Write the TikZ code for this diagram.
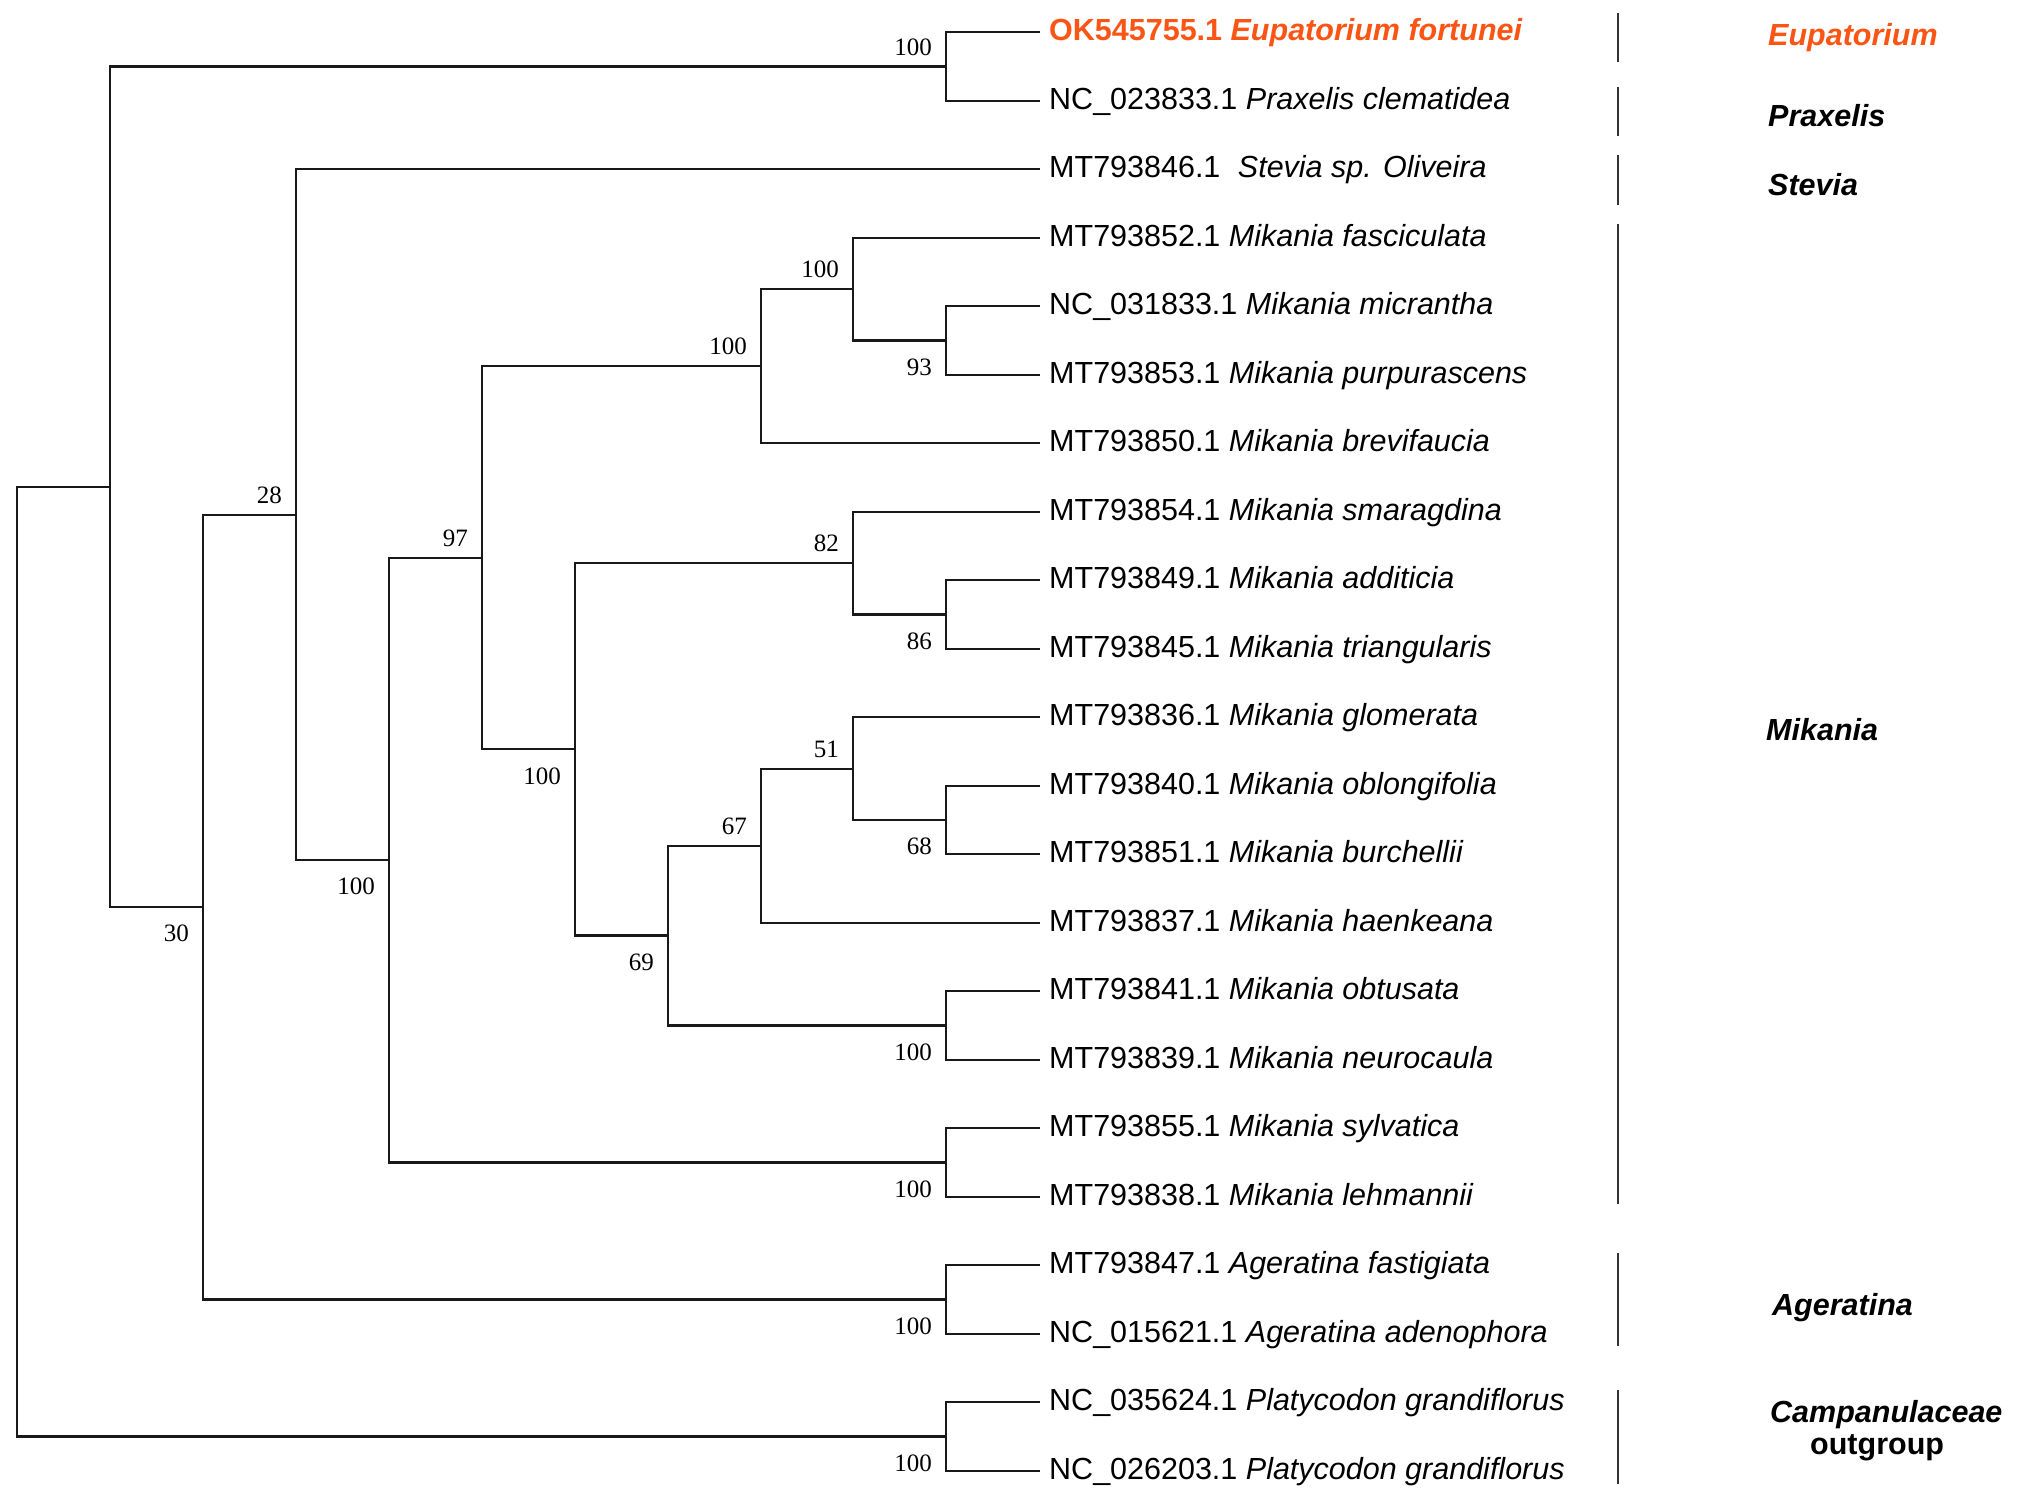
\documentclass[tikz,border=0pt]{standalone}
\usepackage{fontspec}
\setmainfont{Liberation Sans}
\newfontfamily\bsfont{Liberation Serif}
\definecolor{eupa}{RGB}{250,85,20}
\begin{document}
\begin{tikzpicture}[x=1pt,y=-1pt,
  branch/.style={line width=2.2pt, draw=black!90},
  leaflab/.style={anchor=base west, inner sep=0pt, xshift=9pt, yshift=-8.3pt, font=\fontsize{30.5}{36}\selectfont},
  bsup/.style={anchor=south east, inner sep=0pt, xshift=-14pt, yshift=11pt, font=\bsfont\fontsize{25}{30}\selectfont},
  bsdown/.style={anchor=north east, inner sep=0pt, xshift=-14pt, yshift=-18pt, font=\bsfont\fontsize{25}{30}\selectfont},
  grp/.style={anchor=base west, inner sep=0pt, font=\fontsize{30.5}{36}\selectfont\bfseries\itshape},
  bar/.style={line width=1.8pt, draw=black!80}]
\fill[white] (0,0) rectangle (2019,1501);
\useasboundingbox (0,0) rectangle (2019,1501);
% leaf tips
\coordinate (t0) at (1040,32.3);
\coordinate (t1) at (1040,100.8);
\coordinate (t2) at (1040,169.3);
\coordinate (t3) at (1040,237.8);
\coordinate (t4) at (1040,306.3);
\coordinate (t5) at (1040,374.8);
\coordinate (t6) at (1040,443.3);
\coordinate (t7) at (1040,511.8);
\coordinate (t8) at (1040,580.3);
\coordinate (t9) at (1040,648.8);
\coordinate (t10) at (1040,717.3);
\coordinate (t11) at (1040,785.7);
\coordinate (t12) at (1040,854.2);
\coordinate (t13) at (1040,922.7);
\coordinate (t14) at (1040,991.2);
\coordinate (t15) at (1040,1059.7);
\coordinate (t16) at (1040,1128.2);
\coordinate (t17) at (1040,1196.7);
\coordinate (t18) at (1040,1265.2);
\coordinate (t19) at (1040,1333.7);
\coordinate (t20) at (1040,1402.2);
\coordinate (t21) at (1040,1470.7);
% internal nodes
\coordinate (EP) at (946,66.55);
\coordinate (H) at (946,340.55);
\coordinate (G) at (853,289.18);
\coordinate (F) at (761,366.24);
\coordinate (K) at (946,614.55);
\coordinate (J) at (853,563.18);
\coordinate (O) at (946,819.95);
\coordinate (N) at (853,768.63);
\coordinate (M) at (761,845.66);
\coordinate (P) at (946,1025.45);
\coordinate (L) at (668,935.56);
\coordinate (I) at (575,749.37);
\coordinate (E) at (482,557.8);
\coordinate (Q) at (946,1162.45);
\coordinate (D) at (389,860.13);
\coordinate (C) at (296,514.71);
\coordinate (AG) at (946,1299.45);
\coordinate (B) at (203,907.08);
\coordinate (A) at (110,486.8);
\coordinate (S) at (946,1436.45);
\coordinate (R0) at (17,961.6);
% branches
\draw[branch] (R0) |- (A);
\draw[branch] (R0) |- (S);
\draw[branch] (A) |- (EP);
\draw[branch] (A) |- (B);
\draw[branch] (EP) |- (t0);
\draw[branch] (EP) |- (t1);
\draw[branch] (B) |- (C);
\draw[branch] (B) |- (AG);
\draw[branch] (C) |- (t2);
\draw[branch] (C) |- (D);
\draw[branch] (D) |- (E);
\draw[branch] (D) |- (Q);
\draw[branch] (E) |- (F);
\draw[branch] (E) |- (I);
\draw[branch] (F) |- (G);
\draw[branch] (F) |- (t6);
\draw[branch] (G) |- (t3);
\draw[branch] (G) |- (H);
\draw[branch] (H) |- (t4);
\draw[branch] (H) |- (t5);
\draw[branch] (I) |- (J);
\draw[branch] (I) |- (L);
\draw[branch] (J) |- (t7);
\draw[branch] (J) |- (K);
\draw[branch] (K) |- (t8);
\draw[branch] (K) |- (t9);
\draw[branch] (L) |- (M);
\draw[branch] (L) |- (P);
\draw[branch] (M) |- (N);
\draw[branch] (M) |- (t13);
\draw[branch] (N) |- (t10);
\draw[branch] (N) |- (O);
\draw[branch] (O) |- (t11);
\draw[branch] (O) |- (t12);
\draw[branch] (P) |- (t14);
\draw[branch] (P) |- (t15);
\draw[branch] (Q) |- (t16);
\draw[branch] (Q) |- (t17);
\draw[branch] (AG) |- (t18);
\draw[branch] (AG) |- (t19);
\draw[branch] (S) |- (t20);
\draw[branch] (S) |- (t21);
% bootstrap values
\node[bsup] (bEP) at (EP) {100};
\node[bsdown] (bH) at (H) {93};
\node[bsup] (bG) at (G) {100};
\node[bsup] (bF) at (F) {100};
\node[bsup] (bE) at (E) {97};
\node[bsup] (bC) at (C) {28};
\node[bsdown] (bD) at (D) {100};
\node[bsdown] (bB) at (B) {30};
\node[bsdown] (bI) at (I) {100};
\node[bsup] (bJ) at (J) {82};
\node[bsdown] (bK) at (K) {86};
\node[bsdown] (bL) at (L) {69};
\node[bsup] (bM) at (M) {67};
\node[bsup] (bN) at (N) {51};
\node[bsdown] (bO) at (O) {68};
\node[bsdown] (bP) at (P) {100};
\node[bsdown] (bQ) at (Q) {100};
\node[bsdown] (bAG) at (AG) {100};
\node[bsdown] (bS) at (S) {100};
% leaf labels
\node[leaflab, text=eupa, font=\fontsize{30.5}{36}\selectfont\bfseries] (n0) at (t0) {OK545755.1 \textit{Eupatorium fortunei}};
\node[leaflab] (n1) at (t1) {NC\_023833.1 \textit{Praxelis clematidea}};
\node[leaflab] (n2) at (t2) {MT793846.1\hspace{9pt} \textit{Stevia sp. Oliveira}};
\node[leaflab] (n3) at (t3) {MT793852.1 \textit{Mikania fasciculata}};
\node[leaflab] (n4) at (t4) {NC\_031833.1 \textit{Mikania micrantha}};
\node[leaflab] (n5) at (t5) {MT793853.1 \textit{Mikania purpurascens}};
\node[leaflab] (n6) at (t6) {MT793850.1 \textit{Mikania brevifaucia}};
\node[leaflab] (n7) at (t7) {MT793854.1 \textit{Mikania smaragdina}};
\node[leaflab] (n8) at (t8) {MT793849.1 \textit{Mikania additicia}};
\node[leaflab] (n9) at (t9) {MT793845.1 \textit{Mikania triangularis}};
\node[leaflab] (n10) at (t10) {MT793836.1 \textit{Mikania glomerata}};
\node[leaflab] (n11) at (t11) {MT793840.1 \textit{Mikania oblongifolia}};
\node[leaflab] (n12) at (t12) {MT793851.1 \textit{Mikania burchellii}};
\node[leaflab] (n13) at (t13) {MT793837.1 \textit{Mikania haenkeana}};
\node[leaflab] (n14) at (t14) {MT793841.1 \textit{Mikania obtusata}};
\node[leaflab] (n15) at (t15) {MT793839.1 \textit{Mikania neurocaula}};
\node[leaflab] (n16) at (t16) {MT793855.1 \textit{Mikania sylvatica}};
\node[leaflab] (n17) at (t17) {MT793838.1 \textit{Mikania lehmannii}};
\node[leaflab] (n18) at (t18) {MT793847.1 \textit{Ageratina fastigiata}};
\node[leaflab] (n19) at (t19) {NC\_015621.1 \textit{Ageratina adenophora}};
\node[leaflab] (n20) at (t20) {NC\_035624.1 \textit{Platycodon grandiflorus}};
\node[leaflab] (n21) at (t21) {NC\_026203.1 \textit{Platycodon grandiflorus}};
% group bars
\coordinate (g1a) at (1618,13); \coordinate (g1b) at (1618,62);
\coordinate (g2a) at (1618,87); \coordinate (g2b) at (1618,136);
\coordinate (g3a) at (1618,155); \coordinate (g3b) at (1618,205);
\coordinate (g4a) at (1618,224); \coordinate (g4b) at (1618,1204);
\coordinate (g5a) at (1618,1253); \coordinate (g5b) at (1618,1346);
\coordinate (g6a) at (1618,1390); \coordinate (g6b) at (1618,1484);
\draw[bar] (g1a) -- (g1b);
\draw[bar] (g2a) -- (g2b);
\draw[bar] (g3a) -- (g3b);
\draw[bar] (g4a) -- (g4b);
\draw[bar] (g5a) -- (g5b);
\draw[bar] (g6a) -- (g6b);
% group labels
\node[grp, text=eupa] (G1) at (1768,45.5) {Eupatorium};
\node[grp] (G2) at (1768,126.5) {Praxelis};
\node[grp] (G3) at (1768,195.5) {Stevia};
\node[grp] (G4) at (1766,740) {Mikania};
\node[grp] (G5) at (1772,1315) {Ageratina};
\node[grp] (G6) at (1770,1422) {Campanulaceae};
\node[grp, font=\fontsize{30.5}{36}\selectfont\bfseries] (G7) at (1810,1454) {outgroup};
\end{tikzpicture}
\end{document}
